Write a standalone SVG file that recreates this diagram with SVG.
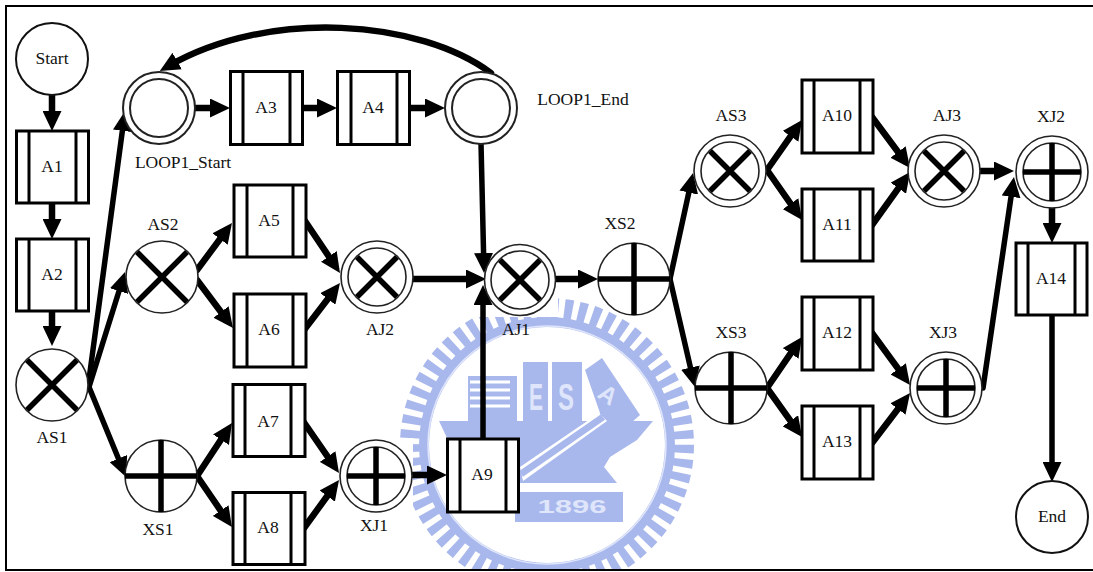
<svg xmlns="http://www.w3.org/2000/svg" width="1093" height="572" viewBox="0 0 1093 572">
<style>
text{font-family:"Liberation Serif","Times New Roman",serif;font-size:17.5px;fill:#111;text-anchor:middle}
.box rect{fill:#fff;stroke:#000;stroke-width:3}
.box line{stroke:#000;stroke-width:3}
.c1{fill:#fff;stroke:#111;stroke-width:2}
.gw{fill:#fff;stroke:#222;stroke-width:1.6}
.in{fill:none;stroke:#222;stroke-width:1.6}
.m{stroke:#000;stroke-width:5.5;fill:none}
.cn path,.cn line{stroke:#000;stroke-width:6.5;stroke-linecap:round;fill:none;marker-end:url(#ah)}
.cn .t{stroke-width:5.5}
.wm{fill:#a9b8ec}
text.wt{fill:#dfe5fa;font-family:"Liberation Sans",Arial,sans-serif;font-weight:bold}
</style>
<defs>
<marker id="ah" markerUnits="userSpaceOnUse" viewBox="0 0 20 19" refX="10" refY="9.5" markerWidth="20" markerHeight="19" orient="auto"><path d="M0,0L20,9.5L0,19Z" fill="#000"/></marker>
</defs>
<rect width="1093" height="572" fill="#fff"/>
<g id="watermark">
<circle cx="547" cy="445" r="136" fill="none" stroke="#a9b8ec" stroke-width="22" stroke-dasharray="8 6"/>
<circle cx="547" cy="445" r="123" fill="none" stroke="#a9b8ec" stroke-width="10"/>
<circle cx="547" cy="445" r="119" fill="none" stroke="#dfe5fa" stroke-width="1.5"/>
<rect class="wm" x="468" y="376" width="49" height="46"/>
<path d="M470,382H510M470,390H510M470,398H510M470,406H510" stroke="#fff" stroke-width="3"/>
<rect class="wm" x="523" y="362" width="25" height="60"/>
<rect class="wm" x="552" y="362" width="30" height="60"/>
<path class="wm" d="M585,370L602,358L640,415L623,430H590L600,413Z"/>
<path class="wm" d="M439,421H653L637,440L610,457L604,467L617,483H523L447,483V438Z"/>
<path d="M520,467L599,413L607,421L523,481Z" fill="#fff"/>
<path d="M521,474L603,417" stroke="#a9b8ec" stroke-width="7" fill="none"/>
<rect class="wm" x="515" y="492" width="108" height="30"/>
<text class="wt" x="536" y="410" style="font-size:36px" textLength="14" lengthAdjust="spacingAndGlyphs">E</text>
<text class="wt" x="566" y="410" style="font-size:36px" textLength="16" lengthAdjust="spacingAndGlyphs">S</text>
<text class="wt" x="608" y="403" style="font-size:24px" transform="rotate(35 608 395)">A</text>
<text class="wt" x="572" y="513" style="font-size:18px" textLength="69" lengthAdjust="spacingAndGlyphs">1896</text>
<rect x="470" y="290" width="88" height="27" fill="#fff"/>
<rect x="395" y="438" width="18" height="72" fill="#fff"/>
<rect x="0" y="571" width="1093" height="1" fill="#fff"/>
</g>
<path id="frame" d="M1093,6H6V570H1093" fill="none" stroke="#000" stroke-width="2"/>
<g id="connectors" class="cn">
<line x1="52" y1="94" x2="52" y2="121"/>
<line x1="52" y1="203" x2="52" y2="229"/>
<line x1="52" y1="311" x2="52" y2="336"/>
<line class="t" x1="88" y1="387" x2="123.7" y2="120.9"/>
<line class="t" x1="89" y1="387" x2="122" y2="281.5"/>
<line class="t" x1="89" y1="387" x2="122.2" y2="467.8"/>
<line x1="193" y1="108" x2="220" y2="108"/>
<line x1="302" y1="108" x2="327" y2="108"/>
<line x1="408" y1="108" x2="435" y2="108"/>
<path d="M491,73C420,20 270,8 168.5,66"/>
<line class="t" x1="481" y1="143" x2="483.8" y2="263"/>
<line x1="197" y1="270" x2="226" y2="231"/>
<line x1="197" y1="280" x2="227" y2="320"/>
<line x1="197" y1="476" x2="226.5" y2="431.3"/>
<line x1="197" y1="476" x2="226.3" y2="518.8"/>
<line x1="305" y1="221" x2="334.4" y2="264.7"/>
<line x1="304" y1="330" x2="333.9" y2="291"/>
<line x1="303" y1="421" x2="333.3" y2="464.8"/>
<line x1="304" y1="528" x2="333.1" y2="488"/>
<line x1="411" y1="475" x2="437" y2="475"/>
<line class="t" x1="483" y1="439" x2="483" y2="295"/>
<line x1="412" y1="279" x2="476" y2="279"/>
<line x1="556" y1="279" x2="588" y2="279"/>
<line class="t" x1="670" y1="279" x2="690.9" y2="182.8"/>
<line class="t" x1="670" y1="279" x2="692.7" y2="377.3"/>
<line x1="767" y1="170" x2="796.3" y2="128.2"/>
<line x1="767" y1="170" x2="796.3" y2="211.8"/>
<line x1="872" y1="117" x2="904" y2="160"/>
<line x1="872" y1="225" x2="904.2" y2="180.1"/>
<line x1="980" y1="171" x2="1004" y2="171"/>
<line class="t" x1="983" y1="388" x2="1012.5" y2="186.9"/>
<line x1="1052" y1="208" x2="1052" y2="233"/>
<line class="t" x1="1052" y1="315" x2="1052" y2="472"/>
<line x1="767" y1="388" x2="796.3" y2="345.2"/>
<line x1="767" y1="388" x2="796.2" y2="428.9"/>
<line x1="872" y1="333" x2="904.1" y2="376.9"/>
<line x1="872" y1="443" x2="904" y2="401"/>
</g>
<g id="Start"><circle class="c1" cx="52" cy="59" r="36"/><text x="52" y="64">Start</text></g>
<g id="End"><circle class="c1" cx="1052" cy="517" r="36"/><text x="1052" y="522">End</text></g>
<g id="A1" class="box"><rect x="16.5" y="131" width="72" height="72"/><line x1="29" y1="131" x2="29" y2="203"/><line x1="76" y1="131" x2="76" y2="203"/><text x="52" y="172">A1</text></g>
<g id="A2" class="box"><rect x="16.5" y="239" width="72" height="72"/><line x1="29" y1="239" x2="29" y2="311"/><line x1="76" y1="239" x2="76" y2="311"/><text x="52" y="280">A2</text></g>
<g id="A3" class="box"><rect x="230.5" y="71.5" width="72" height="73"/><line x1="243" y1="71" x2="243" y2="144"/><line x1="290" y1="71" x2="290" y2="144"/><text x="266" y="113">A3</text></g>
<g id="A4" class="box"><rect x="337.5" y="71.5" width="72" height="73"/><line x1="351" y1="71" x2="351" y2="144"/><line x1="397" y1="71" x2="397" y2="144"/><text x="373" y="113">A4</text></g>
<g id="A5" class="box"><rect x="234" y="185" width="72" height="72"/><line x1="247" y1="185" x2="247" y2="257"/><line x1="293" y1="185" x2="293" y2="257"/><text x="269" y="226">A5</text></g>
<g id="A6" class="box"><rect x="234" y="294" width="72" height="73"/><line x1="247" y1="294" x2="247" y2="367"/><line x1="293" y1="294" x2="293" y2="367"/><text x="269" y="335">A6</text></g>
<g id="A7" class="box"><rect x="233" y="384.5" width="72" height="72"/><line x1="245" y1="384" x2="245" y2="457"/><line x1="291" y1="384" x2="291" y2="457"/><text x="268" y="427">A7</text></g>
<g id="A8" class="box"><rect x="233" y="492.5" width="72" height="72"/><line x1="245" y1="492" x2="245" y2="565"/><line x1="291" y1="492" x2="291" y2="565"/><text x="268" y="533">A8</text></g>
<g id="A9" class="box"><rect x="447.5" y="439" width="71" height="73"/><line x1="460" y1="439" x2="460" y2="512"/><line x1="506" y1="439" x2="506" y2="512"/><text x="482" y="480">A9</text></g>
<g id="A10" class="box"><rect x="802" y="80" width="71" height="73"/><line x1="814" y1="80" x2="814" y2="153"/><line x1="860" y1="80" x2="860" y2="153"/><text x="837" y="121">A10</text></g>
<g id="A11" class="box"><rect x="802" y="189" width="71" height="72"/><line x1="814" y1="189" x2="814" y2="261"/><line x1="860" y1="189" x2="860" y2="261"/><text x="837" y="230">A11</text></g>
<g id="A12" class="box"><rect x="802" y="297" width="71" height="73"/><line x1="814" y1="297" x2="814" y2="370"/><line x1="860" y1="297" x2="860" y2="370"/><text x="837" y="338">A12</text></g>
<g id="A13" class="box"><rect x="802" y="406" width="71" height="73"/><line x1="814" y1="406" x2="814" y2="479"/><line x1="860" y1="406" x2="860" y2="479"/><text x="837" y="447">A13</text></g>
<g id="A14" class="box"><rect x="1016" y="243" width="71" height="72"/><line x1="1028" y1="243" x2="1028" y2="315"/><line x1="1075" y1="243" x2="1075" y2="315"/><text x="1051" y="284">A14</text></g>
<g id="AS1"><circle class="gw" cx="52" cy="385" r="36"/><path class="m" d="M27,360L77,410M77,360L27,410"/><text x="52" y="443">AS1</text></g>
<g id="AS2"><circle class="gw" cx="162" cy="277" r="36"/><path class="m" d="M137,252L187,302M187,252L137,302"/><text x="163" y="230">AS2</text></g>
<g id="XS1"><circle class="gw" cx="161" cy="476" r="36"/><path class="m" d="M125,476H197M161,440V512"/><text x="158" y="535">XS1</text></g>
<g id="XS2"><circle class="gw" cx="634" cy="279" r="36"/><path class="m" d="M598,279H670M634,243V315"/><text x="620" y="229">XS2</text></g>
<g id="XS3"><circle class="gw" cx="731" cy="388" r="36"/><path class="m" d="M695,388H767M731,352V424"/><text x="731" y="338">XS3</text></g>
<g id="LOOP1_Start"><circle class="gw" style="stroke-width:2" cx="159" cy="108" r="36"/><circle class="in" style="stroke-width:2" cx="159" cy="108" r="29"/><text x="183" y="168">LOOP1_Start</text></g>
<g id="LOOP1_End"><circle class="gw" style="stroke-width:2" cx="481" cy="108" r="36"/><circle class="in" style="stroke-width:2" cx="481" cy="108" r="29"/><text x="583" y="105">LOOP1_End</text></g>
<g id="AJ1"><circle class="gw" cx="520" cy="280" r="35.5"/><circle class="in" cx="520" cy="280" r="29"/><path class="m" d="M500,260L540,300M540,260L500,300"/><text x="516" y="335">AJ1</text></g>
<g id="AJ2"><circle class="gw" cx="377" cy="277" r="36"/><circle class="in" cx="377" cy="277" r="29"/><path class="m" d="M357,257L397,297M397,257L357,297"/><text x="380" y="335">AJ2</text></g>
<g id="AJ3"><circle class="gw" cx="944" cy="171" r="36"/><circle class="in" cx="944" cy="171" r="29"/><path class="m" d="M924,151L964,191M964,151L924,191"/><text x="947" y="121">AJ3</text></g>
<g id="AS3"><circle class="gw" cx="730" cy="171" r="36"/><circle class="in" cx="730" cy="171" r="29"/><path class="m" d="M710,151L750,191M750,151L710,191"/><text x="731" y="121">AS3</text></g>
<g id="XJ1"><circle class="gw" cx="376" cy="476" r="36"/><circle class="in" cx="376" cy="476" r="29"/><path class="m" d="M347,476H405M376,447V505"/><text x="374" y="531">XJ1</text></g>
<g id="XJ2"><circle class="gw" cx="1052" cy="172" r="36"/><circle class="in" cx="1052" cy="172" r="29"/><path class="m" d="M1023,172H1081M1052,143V201"/><text x="1051" y="122">XJ2</text></g>
<g id="XJ3"><circle class="gw" cx="946" cy="388" r="36"/><circle class="in" cx="946" cy="388" r="29"/><path class="m" d="M917,388H975M946,359V417"/><text x="943" y="338">XJ3</text></g>
</svg>
